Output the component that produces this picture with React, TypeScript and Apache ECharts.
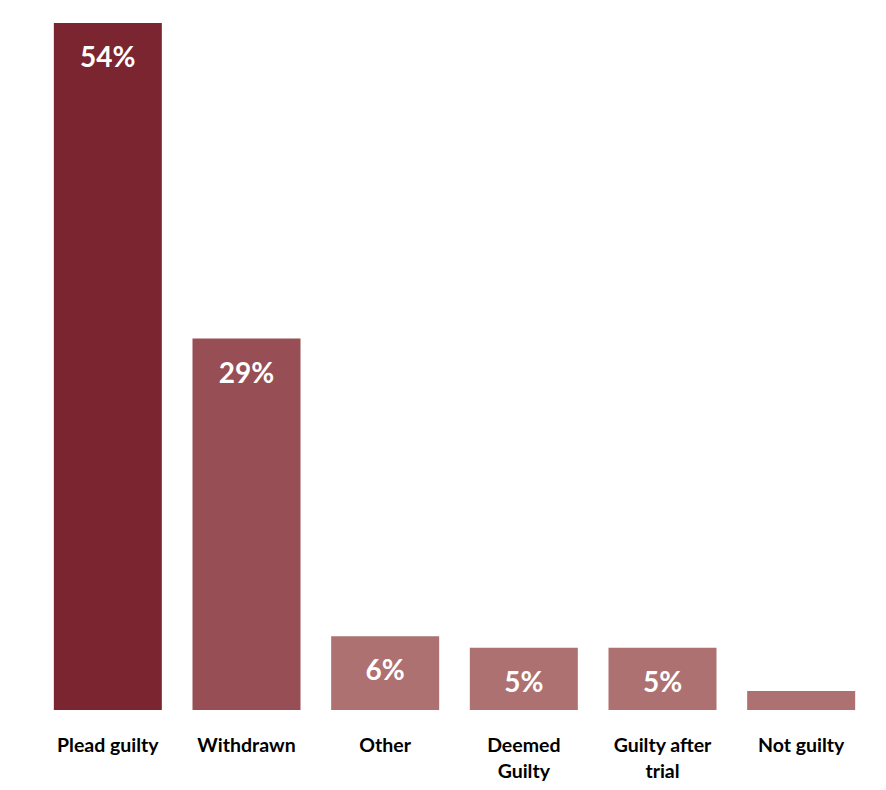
import React, { useEffect, useRef } from "react";
import * as echarts from "echarts";

const categories = ["Plead guilty", "Withdrawn", "Other", "Deemed\nGuilty", "Guilty after\ntrial", "Not guilty"];
const values = [54, 29.2, 5.8, 4.9, 4.9, 1.5];
const showLabel = [true, true, true, true, true, false];
const colors = ["#7B2530", "#974F55", "#AD7172", "#AD7172", "#AD7172", "#AD7172"];

export default function App() {
  const ref = useRef<HTMLDivElement>(null);
  useEffect(() => {
    if (!ref.current) return;
    const chart = echarts.init(ref.current, null, { renderer: "svg" });
    chart.setOption({
      animation: false,
      grid: { left: 38.5, right: 15.5, top: 23, bottom: 80 },
      xAxis: {
        type: "category",
        data: categories,
        axisLine: { show: false },
        axisTick: { show: false },
        axisLabel: {
          interval: 0,
          margin: 21,
          color: "#000",
          fontFamily: "Lato, 'Open Sans', sans-serif",
          fontWeight: "bold",
          fontSize: 19.5,
          lineHeight: 26,
        },
      },
      yAxis: {
        type: "value",
        min: 0,
        max: 54,
        show: false,
        splitLine: { show: false },
      },
      series: [
        {
          type: "bar",
          barWidth: 108,
          data: values.map((v, i) => ({
            value: v,
            itemStyle: { color: colors[i] },
            label: { show: showLabel[i] },
          })),
          label: {
            position: "insideTop",
            distance: 19,
            color: "#fff",
            fontFamily: "Lato, 'Open Sans', sans-serif",
            fontWeight: "bold",
            fontSize: 28,
            formatter: (p: any) => `${Math.round(p.value)}%`,
          },
        },
      ],
    });
    return () => chart.dispose();
  }, []);
  return (
    <div
      ref={ref}
      style={{ position: "absolute", left: 0, top: 0, width: 886, height: 790, background: "#fff" }}
    />
  );
}
